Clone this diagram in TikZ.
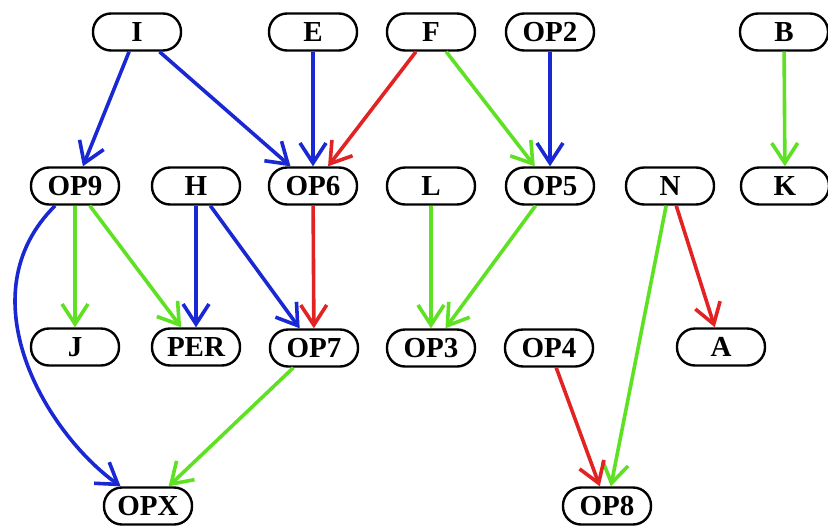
\documentclass[tikz,border=0pt]{standalone}
\usepackage{fontspec}
\setmainfont{Liberation Serif}
\usetikzlibrary{arrows.meta}

\definecolor{eblue}{RGB}{25,40,210}
\definecolor{egreen}{RGB}{95,225,35}
\definecolor{ered}{RGB}{225,35,35}

\tikzset{
	st/.style={draw, line width=2.4pt, rounded corners=18pt, minimum width=88pt, minimum height=37pt, inner sep=0pt, font=\fontsize{29}{34}\selectfont\bfseries},
	ed/.style={line width=3.6pt, -{Straight Barb[length=20pt, width=26pt, line width=3.6pt]}},
	bl/.style={ed, eblue},
	gr/.style={ed, egreen},
	rd/.style={ed, ered}
}

\begin{document}
\begin{tikzpicture}[x=1pt, y=-1pt]
	\useasboundingbox (0,0) rectangle (828,528);
	% top row
	\node[st] (I) at (137,32) {I};
	\node[st] (E) at (313,32) {E};
	\node[st] (F) at (431,32) {F};
	\node[st] (OP2) at (550,32) {OP2};
	\node[st] (B) at (784,32) {B};
	% second row
	\node[st] (OP9) at (75,186) {OP9};
	\node[st] (H) at (196,186) {H};
	\node[st] (OP6) at (313,186) {OP6};
	\node[st] (L) at (431,186) {L};
	\node[st] (OP5) at (550,186) {OP5};
	\node[st] (N) at (670,186) {N};
	\node[st] (K) at (785,186) {K};
	% third row
	\node[st] (J) at (75,347) {J};
	\node[st] (PER) at (196,347) {PER};
	\node[st] (OP7) at (314,348) {OP7};
	\node[st] (OP3) at (431,348) {OP3};
	\node[st] (OP4) at (549,348) {OP4};
	\node[st] (A) at (721,347) {A};
	% bottom row
	\node[st] (OPX) at (148,506) {OPX};
	\node[st] (OP8) at (607,506) {OP8};

	\draw[bl] (I) -- (OP9);
	\draw[bl] (I) -- (OP6);
	\draw[bl] (E) -- (OP6);
	\draw[rd] (F) -- (OP6);
	\draw[gr] (F) -- (OP5);
	\draw[bl] (OP2) -- (OP5);
	\draw[gr] (B) -- (K);
	\draw[gr] (OP9) -- (J);
	\draw[gr] (OP9) -- (PER);
	\draw[bl] (H) -- (PER);
	\draw[bl] (H) -- (OP7);
	\draw[rd] (OP6) -- (OP7);
	\draw[gr] (L) -- (OP3);
	\draw[gr] (OP5) -- (OP3);
	\draw[gr] (N) -- (OP8);
	\draw[rd] (N) -- (A);
	\draw[bl] (OP9) .. controls (-35,295) and (45,432) .. (OPX);
	\draw[gr] (OP7) -- (OPX);
	\draw[rd] (OP4) -- (OP8);
\end{tikzpicture}
\end{document}
